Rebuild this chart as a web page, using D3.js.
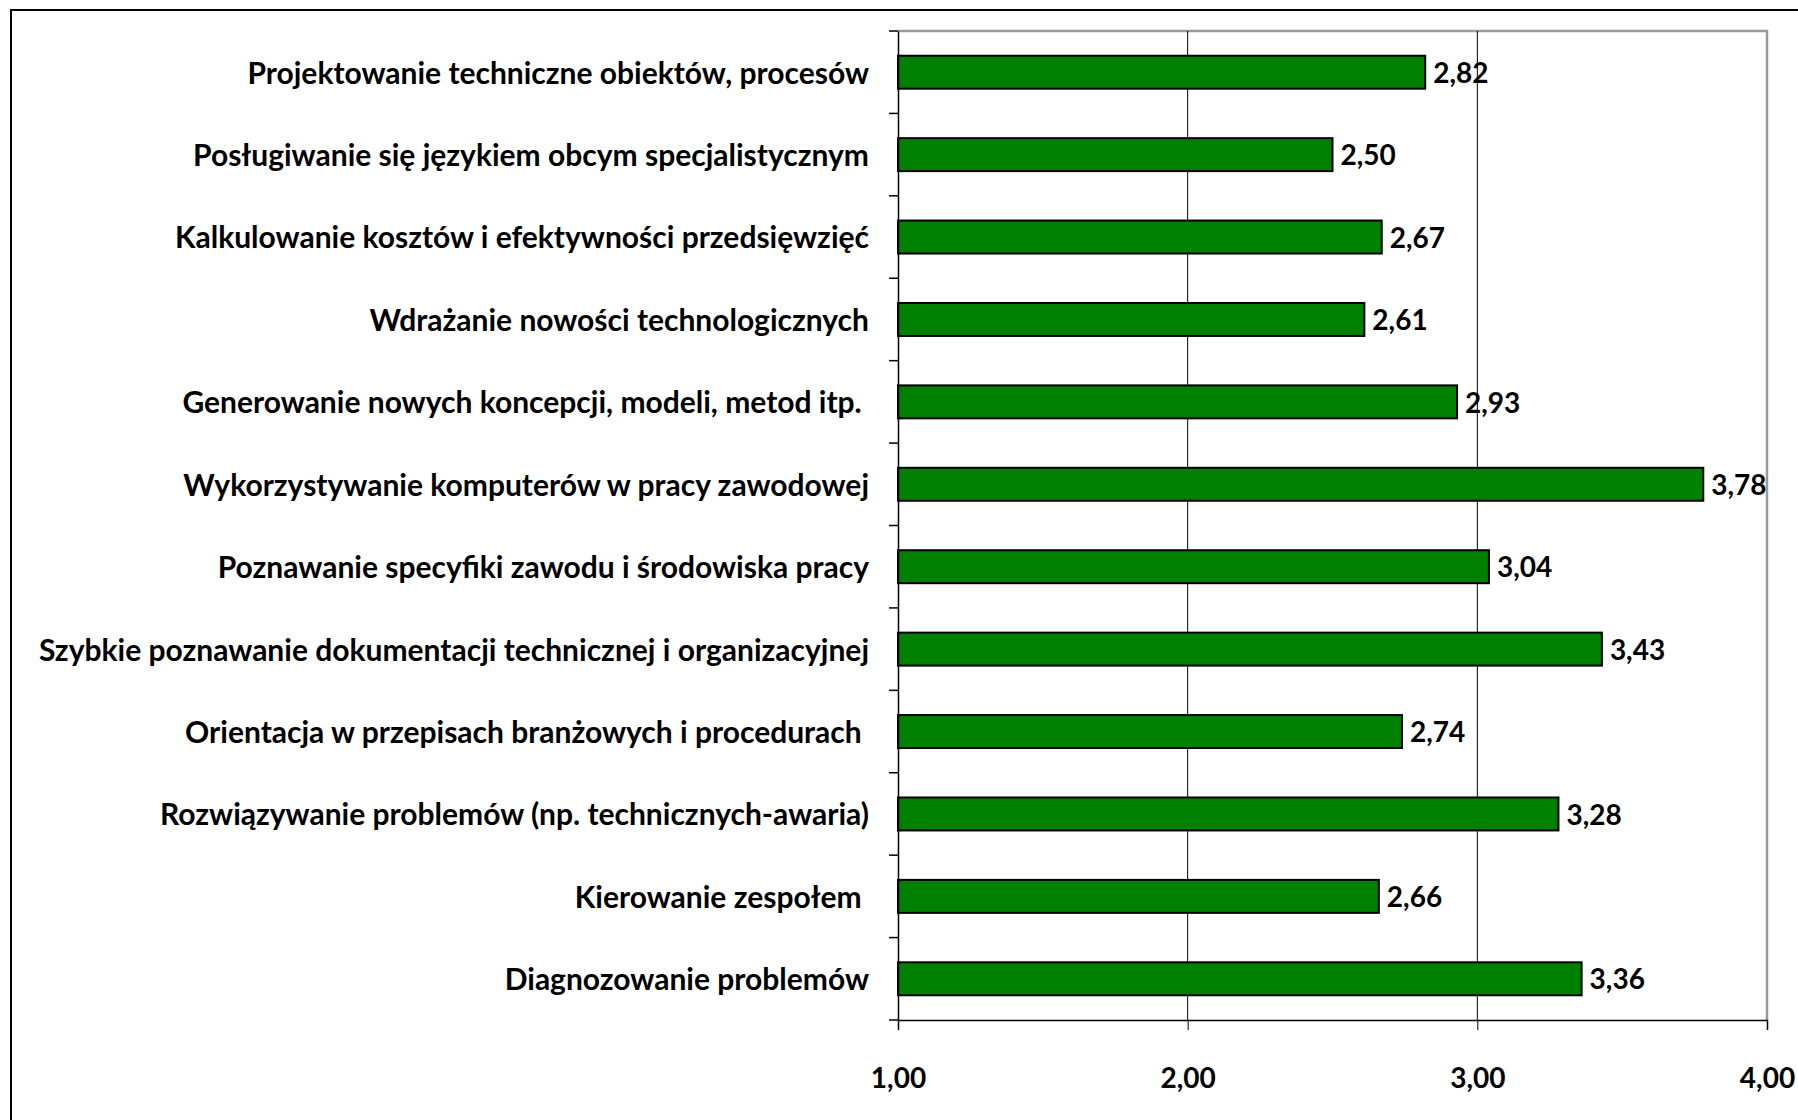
<!DOCTYPE html>
<html><head><meta charset="utf-8">
<script src="https://cdn.jsdelivr.net/npm/d3@7"></script>
<style>
html,body{margin:0;padding:0;background:#fff;}
svg text{font-family:Lato,"Open Sans",sans-serif;font-weight:bold;white-space:pre;}
</style></head>
<body>
<svg id="chart" width="1798" height="1120"></svg>
<script>
const categories = [
  "Projektowanie techniczne obiektów, procesów",
  "Posługiwanie się językiem obcym specjalistycznym",
  "Kalkulowanie kosztów i efektywności przedsięwzięć",
  "Wdrażanie nowości technologicznych",
  "Generowanie nowych koncepcji, modeli, metod itp. ",
  "Wykorzystywanie komputerów w pracy zawodowej",
  "Poznawanie specyfiki zawodu i środowiska pracy",
  "Szybkie poznawanie dokumentacji technicznej i organizacyjnej",
  "Orientacja w przepisach branżowych i procedurach ",
  "Rozwiązywanie problemów (np. technicznych-awaria)",
  "Kierowanie zespołem ",
  "Diagnozowanie problemów"
];
const values = [2.82, 2.50, 2.67, 2.61, 2.93, 3.78, 3.04, 3.43, 2.74, 3.28, 2.66, 3.36];
const xTicks = [1, 2, 3, 4];
const fmt = v => d3.format(".2f")(v).replace(".", ",");

const svg = d3.select("#chart");
const m = {left: 898, right: 1767, top: 31, bottom: 1020};

// outer border
svg.append("rect").attr("x", 11).attr("y", 10).attr("width", 1850).attr("height", 1200)
  .attr("fill", "none").attr("stroke", "#000").attr("stroke-width", 2);

const x = d3.scaleLinear().domain([1, 4]).range([m.left, m.right]);
const y = d3.scaleBand().domain(categories).range([m.top, m.bottom]).paddingInner(0.6).paddingOuter(0.3);
const yb = d3.scaleBand().domain(categories).range([m.top, m.bottom]);

// plot frame (top/right gray)
svg.append("path").attr("d", `M${m.left},${m.top}H${m.right}V${m.bottom}`)
  .attr("fill", "none").attr("stroke", "#999").attr("stroke-width", 2.5);

// gridlines
svg.append("g").selectAll("line").data(xTicks.filter(t => t > 1 && t < 4)).join("line")
  .attr("x1", d => x(d)).attr("x2", d => x(d)).attr("y1", m.top).attr("y2", m.bottom)
  .attr("stroke", "#000").attr("stroke-width", 1);

// bars
svg.append("g").selectAll("rect").data(values).join("rect")
  .attr("x", x(1)).attr("y", (d, i) => y(categories[i]))
  .attr("width", d => x(d) - x(1)).attr("height", y.bandwidth())
  .attr("fill", "#008000").attr("stroke", "#000").attr("stroke-width", 2);

// value labels
svg.append("g").selectAll("text").data(values).join("text")
  .attr("x", d => x(d) + 8).attr("y", (d, i) => y(categories[i]) + y.bandwidth() / 2)
  .attr("dy", "0.38em").attr("font-size", 28).attr("fill", "#000").text(d => fmt(d));

// y axis
const yAxis = d3.axisLeft(yb).tickSize(0).tickFormat("");
const gy = svg.append("g").attr("transform", `translate(${m.left},0)`).call(yAxis);
gy.select(".domain").attr("stroke", "#000").attr("stroke-width", 1.5);
// category boundary ticks
svg.append("g").selectAll("line").data(d3.range(categories.length + 1)).join("line")
  .attr("x1", m.left - 9).attr("x2", m.left)
  .attr("y1", i => m.top + i * yb.step()).attr("y2", i => m.top + i * yb.step())
  .attr("stroke", "#000").attr("stroke-width", 1.5);
// category labels
svg.append("g").selectAll("text").data(categories).join("text")
  .attr("x", m.left - 29).attr("y", d => yb(d) + yb.bandwidth() / 2)
  .attr("dy", "0.38em").attr("text-anchor", "end").attr("font-size", 30).attr("fill", "#000")
  .text(d => d);

// x axis
const xAxis = d3.axisBottom(x).tickValues(xTicks).tickSize(10).tickPadding(38).tickFormat(fmt);
const gx = svg.append("g").attr("transform", `translate(0,${m.bottom})`).call(xAxis);
gx.select(".domain").attr("stroke", "#000").attr("stroke-width", 1.5);
gx.selectAll(".tick line").attr("stroke", "#000").attr("stroke-width", 1);
gx.selectAll(".tick text").attr("font-size", 28).attr("fill", "#000")
  .style("font-family", "Lato, sans-serif").style("font-weight", "bold");
</script>
</body></html>
